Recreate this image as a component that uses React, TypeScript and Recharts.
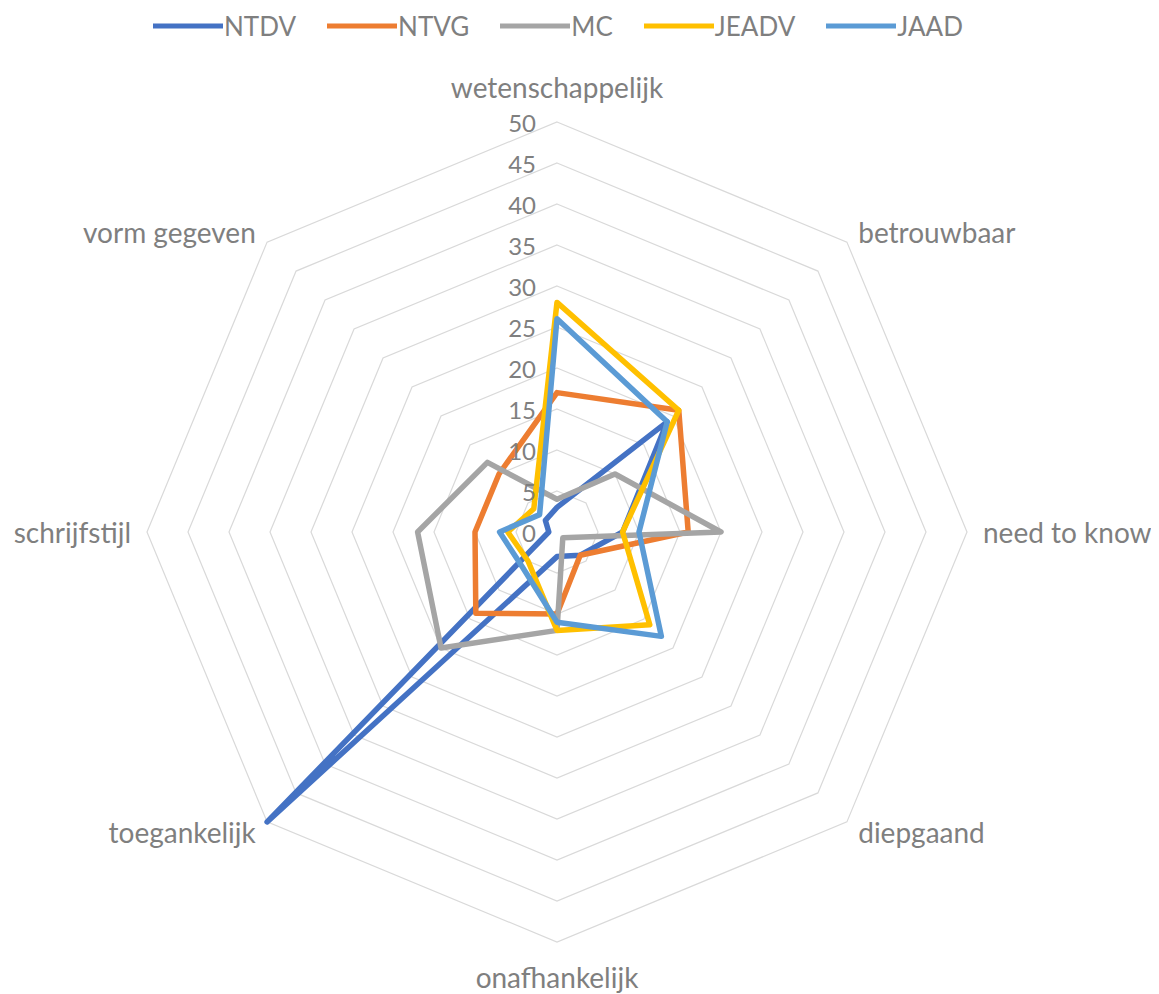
import { RadarChart, Radar, PolarGrid, PolarAngleAxis, PolarRadiusAxis, Legend } from 'recharts';

const categories = [
  'wetenschappelijk',
  'betrouwbaar',
  'need to know',
  'diepgaand',
  'onafhankelijk',
  'toegankelijk',
  'schrijfstijl',
  'vorm gegeven',
];

const ntdv = [3, 19, 8, 4, 3, 50, 1, 2];
const ntvg = [17, 21, 16, 4, 10, 14, 10, 10];
const mc = [4, 10, 20, 1, 12, 20, 17, 12];
const jeadv = [28, 21, 8, 16, 12, 5, 6, 4];
const jaad = [26, 19, 10, 18, 11, 6, 7, 3];

const seriesNames = ['NTDV', 'NTVG', 'MC', 'JEADV', 'JAAD'];
const seriesColors = ['#4472C4', '#ED7D31', '#A5A5A5', '#FFC000', '#5B9BD5'];
const seriesValues = [ntdv, ntvg, mc, jeadv, jaad];

const data = categories.map((cat, i) => {
  const row: any = { category: cat };
  seriesNames.forEach((name, s) => {
    row[name] = seriesValues[s][i];
  });
  return row;
});

const CX = 549;
const CY = 524;
const R = 410;
const FONT = 'Lato, "Open Sans", sans-serif';
const TEXT = '#7f7f7f';

const AngleTick = (props: any) => {
  const { x, y, payload } = props;
  const dx = x - CX;
  const dy = y - CY;
  const len = Math.hypot(dx, dy) || 1;
  const ux = dx / len;
  const uy = dy / len;
  const vx = CX + ux * R;
  const vy = CY + uy * R;
  let anchor = 'middle';
  if (ux > 0.1) anchor = 'start';
  else if (ux < -0.1) anchor = 'end';
  const vertical = Math.abs(uy) > 0.9;
  return (
    <text
      x={vx + (vertical ? 0 : ux * 16)}
      y={vy + uy * (vertical ? 35 : 14)}
      textAnchor={anchor}
      dominantBaseline="central"
      fill={TEXT}
      fontSize={28}
      fontFamily={FONT}
    >
      {payload.value}
    </text>
  );
};

const RadiusTick = (props: any) => {
  const { x, y, payload } = props;
  return (
    <text
      x={x - 21}
      y={y}
      textAnchor="end"
      dominantBaseline="central"
      fill={TEXT}
      fontSize={24}
      fontFamily={FONT}
    >
      {payload.value}
    </text>
  );
};

const renderLegend = () => (
  <div style={{ display: 'flex', alignItems: 'center', fontFamily: FONT, fontSize: 26, color: TEXT }}>
    {seriesNames.map((name, i) => (
      <div key={name} style={{ display: 'flex', alignItems: 'center', marginRight: 31 }}>
        <svg width={70} height={10}>
          <line x1={0} y1={5} x2={70} y2={5} stroke={seriesColors[i]} strokeWidth={5} />
        </svg>
        <span style={{ marginLeft: 1 }}>{name}</span>
      </div>
    ))}
  </div>
);

export default function App() {
  return (
    <RadarChart width={1143} height={986} data={data} cx={CX} cy={CY} outerRadius={R}>
      <PolarGrid gridType="polygon" radialLines={false} stroke="#d9d9d9" strokeWidth={1.2} />
      <PolarAngleAxis dataKey="category" axisLine={false} tickLine={false} tick={<AngleTick />} />
      <PolarRadiusAxis
        angle={90}
        domain={[0, 50]}
        tickCount={11}
        axisLine={false}
        tickLine={false}
        tick={<RadiusTick />}
      />
      {seriesNames.map((name, i) => (
        <Radar
          key={name}
          name={name}
          dataKey={name}
          stroke={seriesColors[i]}
          strokeWidth={5.5}
          strokeLinejoin="round"
          fill="none"
          fillOpacity={0}
          dot={false}
          isAnimationActive={false}
        />
      ))}
      <Legend
        verticalAlign="top"
        content={renderLegend}
        wrapperStyle={{ top: 2, left: 145, width: 950 }}
      />
    </RadarChart>
  );
}
